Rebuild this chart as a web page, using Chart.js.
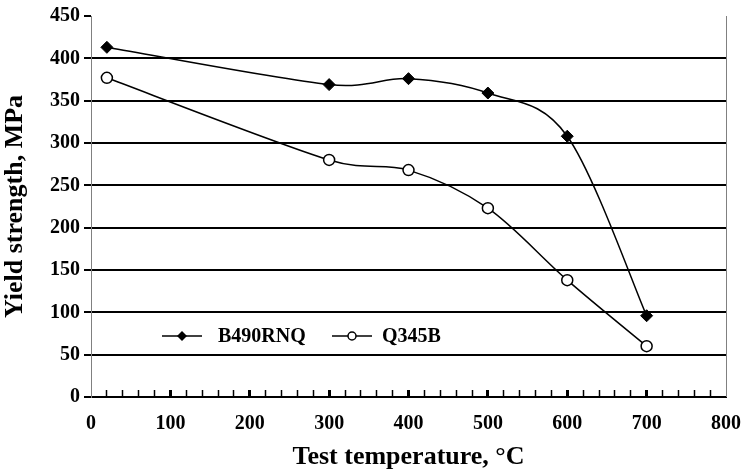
<!DOCTYPE html>
<html>
<head>
<meta charset="utf-8">
<script src="https://cdn.jsdelivr.net/npm/chart.js@4/dist/chart.umd.min.js"></script>
<style>
  body { margin: 0; background: #ffffff; }
  canvas { display: block; }
</style>
</head>
<body>
<canvas id="chart" width="743" height="473"></canvas>
<script>
'use strict';
// data
var temperatures = [20, 300, 400, 500, 600, 700];
var b490rnq = [413, 369, 376, 359, 308, 96];
var q345b = [377, 280, 268, 223, 138, 60];
var seriesNames = ['B490RNQ', 'Q345B'];
var xTitle = 'Test temperature, \u00B0C';
var yTitle = 'Yield strength, MPa';

var serif = '"Liberation Serif", "Times New Roman", serif';

function toPoints(xs, ys) {
  var pts = [];
  for (var i = 0; i < xs.length; i++) {
    pts.push({x: xs[i], y: ys[i]});
  }
  return pts;
}

function dist(a, b) {
  return Math.sqrt((a.x - b.x) * (a.x - b.x) + (a.y - b.y) * (a.y - b.y));
}

// excel style smoothing: arm = (next - prev) / 6, capped at half the segment
var excelSmooth = {
  id: 'excelSmooth',
  beforeDatasetDraw: function(chart, args) {
    var meta = args.meta;
    meta.dataset.updateControlPoints(chart.chartArea, meta.iScale.axis);
    var pts = meta.data;
    var n = pts.length;
    for (var i = 0; i < n; i++) {
      var prev = pts[Math.max(i - 1, 0)];
      var next = pts[Math.min(i + 1, n - 1)];
      var p = pts[i];
      var d = dist(prev, next);
      var fNext = 1 / 6;
      var fPrev = 1 / 6;
      if (d > 0) {
        var dn = dist(p, next);
        var dp = dist(prev, p);
        if (d / 6 > dn / 2) fNext = dn / 2 / d;
        if (d / 6 > dp / 2) fPrev = dp / 2 / d;
      }
      p.cp1x = p.x - (next.x - prev.x) * fPrev;
      p.cp1y = p.y - (next.y - prev.y) * fPrev;
      p.cp2x = p.x + (next.x - prev.x) * fNext;
      p.cp2y = p.y + (next.y - prev.y) * fNext;
    }
  }
};

// grey frame line on the right side of the plot
var rightFrame = {
  id: 'rightFrame',
  beforeDatasetsDraw: function(chart) {
    var ctx = chart.ctx;
    var area = chart.chartArea;
    ctx.save();
    ctx.strokeStyle = '#808080';
    ctx.lineWidth = 1;
    ctx.beginPath();
    ctx.moveTo(Math.round(area.right) + 0.5, area.top);
    ctx.lineTo(Math.round(area.right) + 0.5, area.bottom);
    ctx.stroke();
    ctx.restore();
  }
};

// legend drawn inside the plot like the original
var insideLegend = {
  id: 'insideLegend',
  afterDatasetsDraw: function(chart) {
    var ctx = chart.ctx;
    var area = chart.chartArea;
    var y = area.top + 320;
    var lineStarts = [area.left + 71, area.left + 241];
    var textStarts = [area.left + 127, area.left + 291];
    ctx.save();
    chart.data.datasets.forEach(function(ds, i) {
      var x0 = lineStarts[i];
      ctx.strokeStyle = '#000';
      ctx.lineWidth = 1.5;
      ctx.beginPath();
      ctx.moveTo(x0, y);
      ctx.lineTo(x0 + 40, y);
      ctx.stroke();
      var cx = x0 + 20;
      ctx.fillStyle = ds.pointBackgroundColor;
      ctx.beginPath();
      if (ds.pointStyle === 'rectRot') {
        ctx.moveTo(cx, y - 5);
        ctx.lineTo(cx + 5, y);
        ctx.lineTo(cx, y + 5);
        ctx.lineTo(cx - 5, y);
        ctx.closePath();
        ctx.fill();
      } else {
        ctx.arc(cx, y, 4, 0, Math.PI * 2);
        ctx.fill();
        ctx.stroke();
      }
      ctx.fillStyle = '#000';
      ctx.font = 'bold 20px ' + serif;
      ctx.textBaseline = 'middle';
      ctx.fillText(ds.label, textStarts[i], y + 1);
    });
    ctx.restore();
  }
};

var canvas = document.getElementById('chart');
var ctx = canvas.getContext('2d');

var chart = new Chart(ctx, {
  type: 'line',
  data: {
    datasets: [{
      label: seriesNames[0],
      data: toPoints(temperatures, b490rnq),
      borderColor: '#000',
      borderWidth: 1.5,
      pointStyle: 'rectRot',
      pointRadius: 6,
      pointBackgroundColor: '#000',
      pointBorderColor: '#000',
      pointBorderWidth: 1,
      tension: 0.4,
      fill: false
    }, {
      label: seriesNames[1],
      data: toPoints(temperatures, q345b),
      borderColor: '#000',
      borderWidth: 1.5,
      pointStyle: 'circle',
      pointRadius: 5.5,
      pointBackgroundColor: '#fff',
      pointBorderColor: '#000',
      pointBorderWidth: 1.5,
      tension: 0.4,
      fill: false
    }]
  },
  options: {
    responsive: false,
    animation: false,
    layout: {padding: {top: 15, right: 0, left: 0, bottom: 0}},
    plugins: {
      legend: {display: false},
      tooltip: {enabled: false}
    },
    scales: {
      x: {
        type: 'linear',
        position: 'bottom',
        min: 0,
        max: 800,
        afterFit: function(scale) {
          scale.height = 76;
          scale.paddingLeft = 0;
          scale.paddingRight = 17;
        },
        ticks: {
          stepSize: 20,
          autoSkip: false,
          maxRotation: 0,
          padding: 22,
          color: '#000',
          font: {family: serif, size: 20, weight: 'bold'},
          callback: function(v) { return v % 100 === 0 ? v : ''; }
        },
        grid: {
          drawOnChartArea: false,
          tickLength: -7,
          tickColor: '#000',
          tickWidth: function(c) {
            if (!c.tick || c.tick.value === 0 || c.tick.value === 800) return 0;
            return c.tick.value % 100 === 0 ? 3 : 1.5;
          }
        },
        border: {color: '#000', width: 2},
        title: {
          display: true,
          text: xTitle,
          color: '#000',
          font: {family: serif, size: 26, weight: 'bold'},
          padding: {top: 0, bottom: 0}
        }
      },
      y: {
        min: 0,
        max: 450,
        afterFit: function(scale) { scale.width = 91; },
        ticks: {
          stepSize: 50,
          padding: 4,
          color: '#000',
          font: {family: serif, size: 20, weight: 'bold'}
        },
        grid: {
          color: function(c) {
            return c.tick && c.tick.value === 450 ? 'rgba(0,0,0,0)' : '#000';
          },
          lineWidth: 2,
          tickLength: 7,
          tickColor: '#000',
          tickWidth: 2
        },
        border: {color: '#808080', width: 1},
        title: {
          display: true,
          text: yTitle,
          color: '#000',
          font: {family: serif, size: 26, weight: 'bold'},
          padding: {top: 0, bottom: 0}
        }
      }
    }
  },
  plugins: [excelSmooth, rightFrame, insideLegend]
});
</script>
</body>
</html>
